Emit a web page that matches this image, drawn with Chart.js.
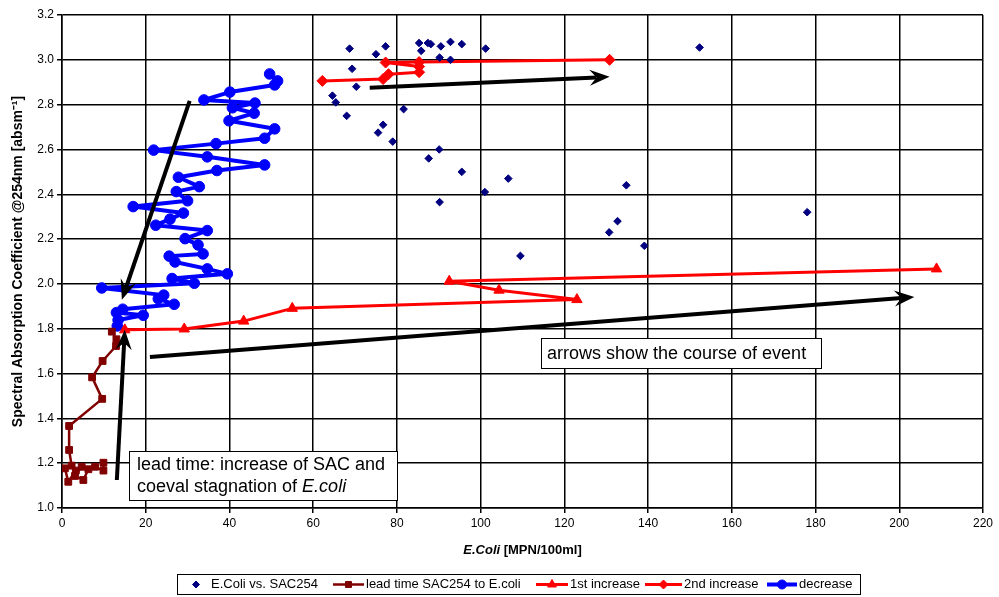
<!DOCTYPE html>
<html><head><meta charset="utf-8">
<script src="https://cdn.jsdelivr.net/npm/chart.js@4.4.0/dist/chart.umd.min.js"></script>
<style>html,body{margin:0;padding:0;background:#fff;}#wrap{width:999px;height:597px;}</style>
</head><body><div id="wrap"><canvas id="c" width="999" height="597"></canvas></div>
<script>
// ---- tick labels ----
const xTicks = [0,20,40,60,80,100,120,140,160,180,200,220];
const yTicks = [1.0,1.2,1.4,1.6,1.8,2.0,2.2,2.4,2.6,2.8,3.0,3.2];

// ---- E.Coli vs. SAC254 (scatter) ----
const scatterX = [68.7,77.3,75.0,85.3,87.4,88.1,90.5,92.8,95.5,101.2,85.8,90.2,92.8,69.3,70.3,64.6,65.4,68.0,81.6,76.7,75.5,79.0,90.1,87.6,95.5,106.6,101.0,90.2,134.8,132.7,130.7,139.1,109.5,152.3,178.0];
const scatterY = [3.05,3.06,3.025,3.075,3.075,3.07,3.06,3.08,3.07,3.05,3.04,3.01,3.0,2.96,2.88,2.84,2.81,2.75,2.78,2.71,2.675,2.635,2.60,2.56,2.50,2.47,2.41,2.365,2.44,2.28,2.23,2.17,2.125,3.055,2.32];

// ---- lead time SAC254 to E.coli ----
const leadX = [9.9,9.9,7.9,6.3,5.1,3.1,4.7,3.3,1.5,0.7,2.3,1.7,1.7,9.6,7.2,9.7,12.9,13.0,11.9];
const leadY = [1.202,1.167,1.184,1.173,1.125,1.143,1.184,1.167,1.117,1.177,1.189,1.259,1.366,1.487,1.583,1.656,1.723,1.753,1.787];

// ---- 1st increase ----
const inc1X = [15.0,29.2,43.4,55.0,123.0,104.4,92.5,208.9];
const inc1Y = [1.795,1.799,1.834,1.891,1.93,1.972,2.012,2.067];

// ---- 2nd increase ----
const inc2X = [62.2,76.7,78.0,85.3,85.3,77.3,85.3,130.8];
const inc2Y = [2.906,2.914,2.936,2.945,2.97,2.988,2.99,3.0];

// ---- decrease ----
const decX = [49.6,51.5,50.8,40.1,33.9,46.1,40.7,45.9,39.9,50.8,48.4,36.8,21.9,34.7,48.4,37.0,27.8,32.8,27.3,30.0,17.0,29.0,25.8,22.4,34.7,29.4,32.5,33.7,25.6,27.0,34.7,39.5,26.3,31.6,9.5,24.3,23.0,26.8,14.5,13.0,19.4,13.4,13.2];
const decY = [2.937,2.906,2.888,2.856,2.821,2.807,2.786,2.762,2.728,2.692,2.650,2.626,2.597,2.567,2.531,2.506,2.476,2.434,2.412,2.371,2.345,2.316,2.289,2.262,2.238,2.202,2.174,2.134,2.124,2.098,2.067,2.045,2.024,2.003,1.982,1.950,1.934,1.909,1.887,1.872,1.860,1.839,1.8125];

// ---- course arrows (data coordinates: start -> tip) ----
const arrowX1 = [30.5, 13.1, 21.0, 73.5];
const arrowY1 = [2.817, 1.125, 1.674, 2.875];
const arrowX2 = [14.3, 15.0, 203.6, 130.8];
const arrowY2 = [1.929, 1.795, 1.942, 2.924];

const seriesNames = ['E.Coli vs. SAC254','lead time SAC254 to E.coli','1st increase','2nd increase','decrease'];

const zip = (xs, ys) => xs.map((x, i) => ({x, y: ys[i]}));
const FONT = '"Liberation Sans", Arial, sans-serif';

const common = {borderJoinStyle: 'round', borderCapStyle: 'round'};
const datasets = [
  {label: seriesNames[0], data: zip(scatterX, scatterY), showLine: false, pointStyle: 'rectRot', pointRadius: 3.8,
   backgroundColor: '#000080', borderColor: '#000080', pointBorderWidth: 1},
  Object.assign({label: seriesNames[1], data: zip(leadX, leadY), showLine: true, borderColor: '#800000', borderWidth: 2.5,
   pointStyle: 'rect', pointRadius: 4.8, backgroundColor: '#800000', pointBorderWidth: 1}, common),
  Object.assign({label: seriesNames[2], data: zip(inc1X, inc1Y), showLine: true, borderColor: '#FF0000', borderWidth: 3,
   pointStyle: 'triangle', pointRadius: 6, backgroundColor: '#FF0000', pointBorderWidth: 1}, common),
  Object.assign({label: seriesNames[3], data: zip(inc2X, inc2Y), showLine: true, borderColor: '#FF0000', borderWidth: 3,
   pointStyle: 'rectRot', pointRadius: 5.5, backgroundColor: '#FF0000', pointBorderWidth: 1}, common),
  Object.assign({label: seriesNames[4], data: zip(decX, decY), showLine: true, borderColor: '#0000FF', borderWidth: 4,
   pointStyle: 'circle', pointRadius: 5.3, backgroundColor: '#0000FF', pointBorderWidth: 1}, common)
];

function drawArrow(ctx, x1, y1, x2, y2) {
  const ang = Math.atan2(y2 - y1, x2 - x1);
  const L = 20, W = 8, notch = 13;
  const cos = Math.cos(ang), sin = Math.sin(ang);
  const bx = x2 - cos * notch, by = y2 - sin * notch;
  ctx.save();
  ctx.strokeStyle = '#000'; ctx.fillStyle = '#000'; ctx.lineWidth = 4; ctx.lineCap = 'butt';
  ctx.beginPath(); ctx.moveTo(x1, y1); ctx.lineTo(bx, by); ctx.stroke();
  ctx.beginPath();
  ctx.moveTo(x2, y2);
  ctx.lineTo(x2 - cos * L - sin * W, y2 - sin * L + cos * W);
  ctx.lineTo(bx, by);
  ctx.lineTo(x2 - cos * L + sin * W, y2 - sin * L - cos * W);
  ctx.closePath(); ctx.fill();
  ctx.restore();
}

const overlay = {
  id: 'overlay',
  afterDatasetsDraw(chart) {
    const ctx = chart.ctx, xs = chart.scales.x, ys = chart.scales.y;
    for (let i = 0; i < arrowX1.length; i++) {
      drawArrow(ctx, xs.getPixelForValue(arrowX1[i]), ys.getPixelForValue(arrowY1[i]),
                     xs.getPixelForValue(arrowX2[i]), ys.getPixelForValue(arrowY2[i]));
    }
    ctx.save();
    // annotation 1
    ctx.fillStyle = '#fff'; ctx.strokeStyle = '#000'; ctx.lineWidth = 1;
    ctx.fillRect(541.5, 338.5, 280, 30); ctx.strokeRect(541.5, 338.5, 280, 30);
    ctx.fillStyle = '#000'; ctx.font = '18px ' + FONT; ctx.textBaseline = 'middle'; ctx.textAlign = 'left';
    ctx.fillText('arrows show the course of event', 547, 354);
    // annotation 2
    ctx.fillStyle = '#fff';
    ctx.fillRect(129.5, 451.5, 268, 49); ctx.strokeRect(129.5, 451.5, 268, 49);
    ctx.fillStyle = '#000';
    ctx.fillText('lead time: increase of SAC and', 137, 465);
    const p = 'coeval stagnation of ';
    ctx.fillText(p, 137, 487);
    const w = ctx.measureText(p).width;
    ctx.font = 'italic 18px ' + FONT;
    ctx.fillText('E.coli', 137 + w, 487);
    ctx.restore();
  },
  afterDraw(chart) {
    const ctx = chart.ctx, ca = chart.chartArea;
    ctx.save();
    // x axis title (mixed styles)
    ctx.fillStyle = '#000'; ctx.textBaseline = 'middle';
    const t1 = 'E.Coli', t2 = ' [MPN/100ml]';
    ctx.font = 'italic bold 13px ' + FONT; const w1 = ctx.measureText(t1).width;
    ctx.font = 'bold 13px ' + FONT; const w2 = ctx.measureText(t2).width;
    let sx = (ca.left + ca.right) / 2 - (w1 + w2) / 2;
    ctx.textAlign = 'left';
    ctx.font = 'italic bold 13px ' + FONT; ctx.fillText(t1, sx, 550);
    ctx.font = 'bold 13px ' + FONT; ctx.fillText(t2, sx + w1, 550);

    // legend
    ctx.strokeStyle = '#000'; ctx.lineWidth = 1;
    ctx.strokeRect(177.5, 574.5, 683, 20);
    const cy = 584.5;
    const items = [
      {ds: 0, line: null, mx: 196, tx: 211, r: 3.5},
      {ds: 1, line: [333, 364], mx: 348.5, tx: 366, r: 4.2},
      {ds: 2, line: [536, 568], mx: 552, tx: 570, r: 5},
      {ds: 3, line: [645, 682], mx: 663.5, tx: 684, r: 4.5},
      {ds: 4, line: [767, 797], mx: 782, tx: 799, r: 4.5}
    ];
    ctx.font = '13px ' + FONT; ctx.textBaseline = 'middle'; ctx.textAlign = 'left';
    items.forEach(it => {
      const ds = chart.data.datasets[it.ds];
      if (it.line) {
        ctx.strokeStyle = ds.borderColor; ctx.lineWidth = ds.borderWidth;
        ctx.beginPath(); ctx.moveTo(it.line[0], cy); ctx.lineTo(it.line[1], cy); ctx.stroke();
      }
      ctx.fillStyle = ds.backgroundColor; ctx.strokeStyle = ds.backgroundColor; ctx.lineWidth = 1;
      Chart.helpers.drawPoint(ctx, {pointStyle: ds.pointStyle, radius: it.r, rotation: 0, borderWidth: 1}, it.mx, cy);
      ctx.fillStyle = '#000';
      ctx.fillText(ds.label, it.tx, cy);
    });
    ctx.restore();
  }
};

new Chart(document.getElementById('c'), {
  type: 'scatter',
  data: {datasets},
  plugins: [overlay],
  options: {
    responsive: false,
    animation: false,
    layout: {padding: {top: 15, right: 16, left: 0, bottom: 0}},
    plugins: {legend: {display: false}, tooltip: {enabled: false}},
    scales: {
      x: {
        type: 'linear', min: 0, max: 220,
        afterBuildTicks: s => { s.ticks = xTicks.map(v => ({value: v})); },
        afterFit: s => { s.height = 89; },
        ticks: {color: '#000', font: {family: FONT, size: 12}, padding: 3, maxRotation: 0, autoSkip: false,
                callback: v => String(v)},
        grid: {color: '#000', lineWidth: 1.5, tickLength: 5, tickColor: '#000'},
        border: {color: '#000', width: 1.5},
        title: {display: false}
      },
      y: {
        type: 'linear', min: 1.0, max: 3.2,
        afterBuildTicks: s => { s.ticks = yTicks.map(v => ({value: v})); },
        afterFit: s => { s.width = 62; },
        ticks: {color: '#000', font: {family: FONT, size: 12}, padding: 3, autoSkip: false,
                callback: v => Number(v).toFixed(1)},
        grid: {color: '#000', lineWidth: 1.5, tickLength: 5, tickColor: '#000'},
        border: {color: '#000', width: 1.5},
        title: {display: true, text: 'Spectral Absorption Coefficient @254nm [absm\u207B\u00B9]', color: '#000',
                font: {family: FONT, size: 14, weight: 'bold'}, padding: {top: 10, bottom: 0}}
      }
    }
  }
});
</script>
</body></html>
